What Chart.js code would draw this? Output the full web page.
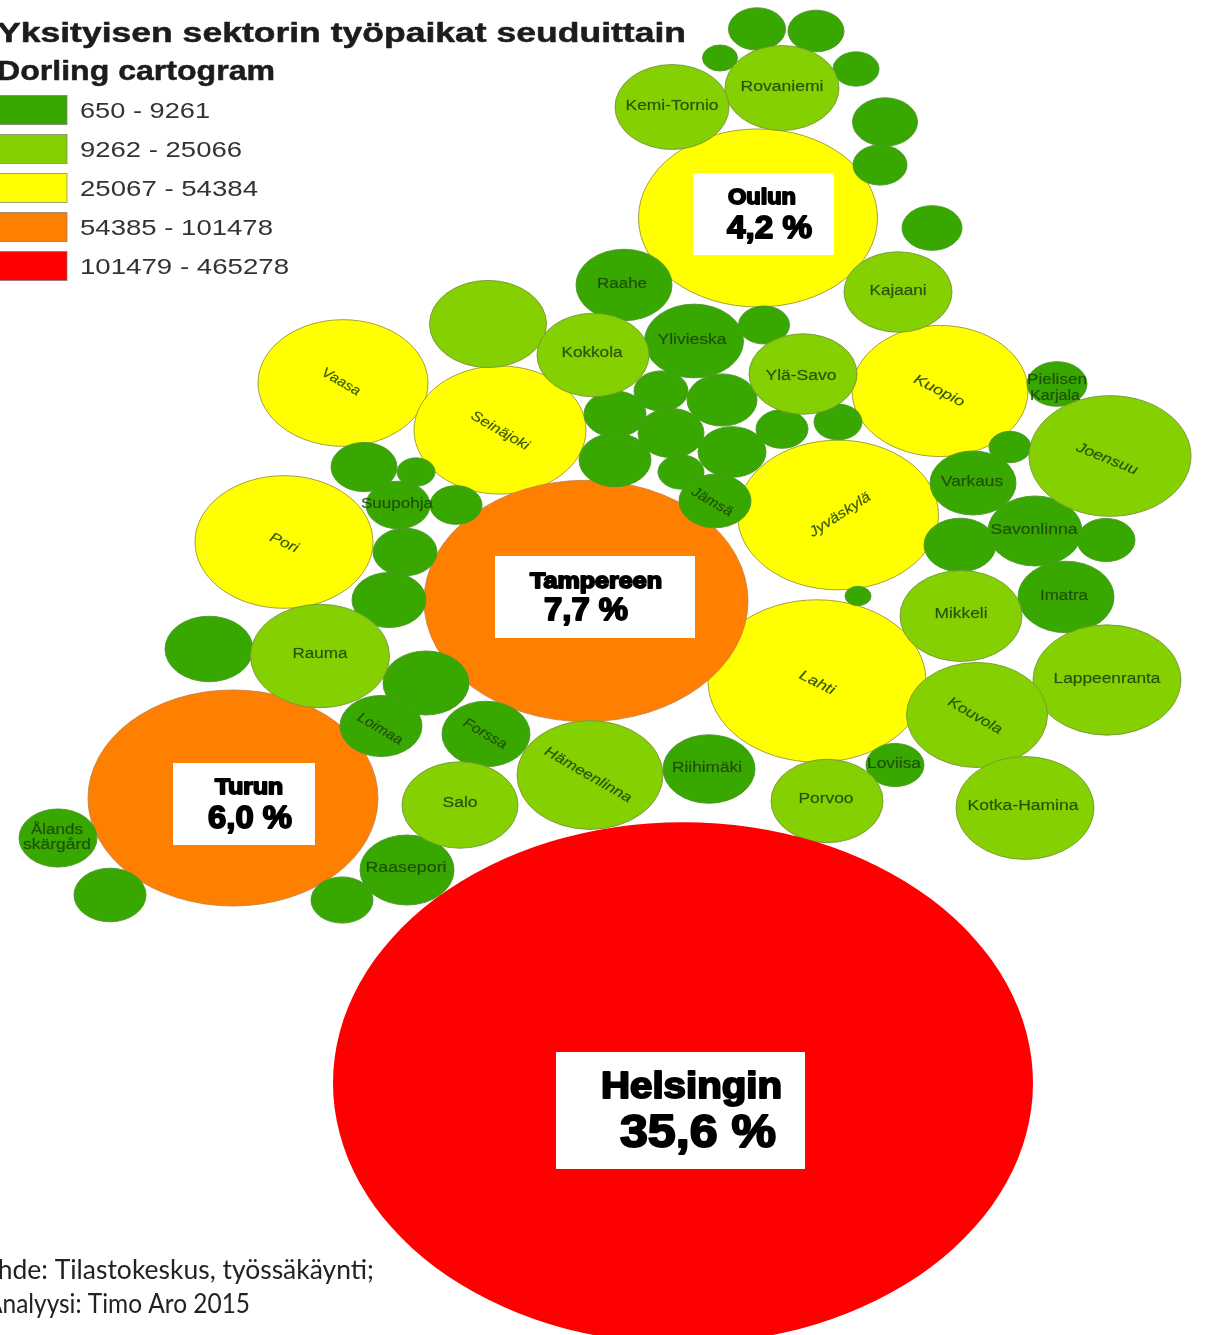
<!DOCTYPE html>
<html lang="fi">
<head>
<meta charset="utf-8">
<title>Yksityisen sektorin työpaikat seuduittain</title>
<script src="https://cdn.jsdelivr.net/npm/chart.js@4/dist/chart.umd.js"></script>
<style>html,body{margin:0;padding:0;background:#fff;overflow:hidden}canvas{display:block}</style>
</head>
<body>
<canvas id="c" width="1209" height="1335"></canvas>
<script>
// ---------- data ----------
const legendRanges = ['650 - 9261','9262 - 25066','25067 - 54384','54385 - 101478','101479 - 465278'];
const classColors  = ['#38a800','#85d000','#ffff00','#ff8000','#ff0000'];
// class 0: smallest regions
const class0X = [757,816,720,856,885,880,932,624,694,764,1057,661,615,722,671,732,615,681,782,838,715,1010,973,1035,960,1106,1066,858,895,709,398,364,416,456,405,389,209,426,381,486,407,342,58,110];
const class0Y = [29,31,58,69,122,165,228,285,341,325,384,391,414,400,433,452,460,472,429,422,501,447,483,531,545,540,597,596,765,769,505,467,472,505,552,600,649,683,726,734,870,900,838,895];
const class0R = [28.5,28,17.5,23,32.5,27,30,48,49.5,25.5,30,27,31,35,33,34,36,23,26,24,36,21,43,47,36,29,48,13,29,46,32,33,19,26,32,37,44,43,41,44,47,31,39,36];
// class 1
const class1X = [782,672,898,488,593,803,1110,961,1107,977,827,1025,590,320,460];
const class1Y = [88,107,292,324,355,374,456,616,680,715,801,808,775,656,805];
const class1R = [57,57,54,58.5,56,54,81,61,74,70.5,56,69,73,69.5,58];
// class 2
const class2X = [758,940,343,500,838,817,284];
const class2Y = [218,391,383,430,515,681,542];
const class2R = [119.5,88,85,86,100.5,109,89];
// class 3
const class3X = [586,233];
const class3Y = [601,798];
const class3R = [162,145];
// class 4
const class4X = [683];
const class4Y = [1083];
const class4R = [350];

const regionNames = ['Kemi-Tornio','Rovaniemi','Raahe','Kajaani','Kokkola','Ylivieska','Ylä-Savo','Kuopio','Pielisen','Karjala','Joensuu','Vaasa','Seinäjoki','Jämsä','Suupohja','Varkaus','Savonlinna','Jyväskylä','Imatra','Mikkeli','Lappeenranta','Kouvola','Lahti','Loviisa','Porvoo','Kotka-Hamina','Riihimäki','Hämeenlinna','Forssa','Loimaa','Salo','Rauma','Pori','Raasepori','Ålands','skärgård'];
const regionX = [672,782,622,898,592,692,801,939,1057,1055,1107,341,500,712,397,972,1034,840,1064,961,1107,975,817,894,826,1023,707,588,485,380,460,320,284,406,57,57];
const regionY = [106,87,284,291,353,340,376,391,380,396,459,382,431,502,504,482,530,515,596,614,679,716,683,764,799,806,768,775,734,729,803,654,543,868,830,845];
const regionA = [0,0,0,0,0,0,0,27,0,0,22,30,30,30,0,0,0,-33,0,0,0,30,27,0,0,0,0,30,30,30,0,0,25,0,0,0];
const regionW = [93,83,50,57,61,69,71,55,60,50,65,42,65,45,72,62,87,70,48,53,107,60,38,54,55,111,70,98,48,50,35,55,30,81,52,68];

const shareTitles = ['Oulun','Tampereen','Turun','Helsingin'];
const shareValues = ['4,2 %','7,7 %','6,0 %','35,6 %'];

// ---------- layout ----------
const ASPECT = 0.745;
const classBorders = ['rgba(75,150,45,0.9)','rgba(120,150,60,0.9)','rgba(150,145,40,0.85)','rgba(195,125,70,0.8)','rgba(255,0,0,0)'];
const classOrder = [1,0,3,2,-1]; // higher is drawn first: yellow, orange, dark, light, red
const boxes = [[693,173,141,82],[495,556,200,82],[173,763,142,82],[556,1052,249,117]];
const shareName = [[728,796,204,'bold 22px'],[530,662,588,'bold 22px'],[215,283,794,'bold 22px'],[601,782,1098,'bold 36px']];
const shareVal  = [[727,812,238,'bold 31px'],[544,628,620,'bold 31px'],[208,292,828,'bold 31px'],[620,776,1147,'bold 46px']];

// the whole canvas is the plot: big bubbles may run off the edge as in the reference
Chart.BubbleController.prototype.getMaxOverflow = function () { return 0; };

// bubbles are elliptical in the reference because the map was stretched sideways
Chart.PointElement.prototype.draw = function (ctx) {
  const o = this.options;
  ctx.save();
  ctx.fillStyle = o.backgroundColor;
  ctx.strokeStyle = o.borderColor;
  ctx.lineWidth = o.borderWidth;
  ctx.beginPath();
  ctx.ellipse(this.x, this.y, o.radius, o.radius * ASPECT, 0, 0, Math.PI * 2);
  ctx.fill();
  ctx.stroke();
  ctx.restore();
};

function fit(ctx, text, left, right, base, font, color, heavy) {
  ctx.save();
  ctx.font = font;
  ctx.textAlign = 'left';
  ctx.textBaseline = 'alphabetic';
  const w = ctx.measureText(text).width;
  ctx.translate(left, base);
  ctx.scale((right - left) / w, 1);
  ctx.fillStyle = color;
  if (heavy) { ctx.strokeStyle = color; ctx.lineWidth = heavy; ctx.lineJoin = 'round'; ctx.strokeText(text, 0, 0); }
  ctx.fillText(text, 0, 0);
  ctx.restore();
}

const overlay = {
  id: 'overlay',
  afterDatasetsDraw(chart) {
    const ctx = chart.ctx, sx = chart.scales.x, sy = chart.scales.y;
    // region labels
    regionNames.forEach((n, i) => {
      ctx.save();
      const rotated = regionA[i] !== 0;
      ctx.font = (rotated ? 'italic ' : '') + '14px "Liberation Sans"';
      ctx.textAlign = 'center';
      ctx.textBaseline = 'middle';
      ctx.translate(sx.getPixelForValue(regionX[i]), sy.getPixelForValue(regionY[i]));
      ctx.rotate(regionA[i] * Math.PI / 180);
      ctx.scale(regionW[i] / ctx.measureText(n).width, 1);
      ctx.fillStyle = 'rgba(30,70,10,0.9)';
      ctx.strokeStyle = 'rgba(30,70,10,0.35)';
      ctx.lineWidth = 0.4;
      ctx.strokeText(n, 0, 0);
      ctx.fillText(n, 0, 0);
      ctx.restore();
    });
    // white share boxes
    boxes.forEach((b, i) => {
      ctx.fillStyle = '#fff';
      ctx.fillRect(b[0], b[1], b[2], b[3]);
      const a = shareName[i], v = shareVal[i];
      fit(ctx, shareTitles[i], a[0], a[1], a[2], a[3] + ' "Liberation Sans"', '#000', i === 3 ? 2 : 1.8);
      fit(ctx, shareValues[i], v[0], v[1], v[2], v[3] + ' "Liberation Sans"', '#000', i === 3 ? 2 : 1.8);
    });
    // title
    const tc = '#1c1c1c';
    fit(ctx, 'Yksityisen sektorin työpaikat seuduittain', -3, 686, 42, 'bold 27px "Liberation Sans"', tc, 0.5);
    fit(ctx, 'Dorling cartogram', -3, 275, 80, 'bold 27px "Liberation Sans"', tc, 0.5);
    // legend
    const rights = [210,242,258,273,289];
    legendRanges.forEach((t, i) => {
      const top = 95.5 + i * 39;
      ctx.fillStyle = classColors[i];
      ctx.fillRect(-1, top, 68, 29);
      ctx.strokeStyle = 'rgba(120,120,120,0.7)';
      ctx.lineWidth = 1;
      ctx.strokeRect(-1, top, 68, 29);
      fit(ctx, t, 80, rights[i], top + 22, '22px "Liberation Sans"', '#333');
    });
    // source
    fit(ctx, 'Lähde: Tilastokeskus, työssäkäynti;', -29, 374, 1279, '26px "Lato"', '#222');
    fit(ctx, 'Analyysi: Timo Aro 2015', -14, 250, 1313, '26px "Lato"', '#222');
  }
};

function series(i, xs, ys, rs) {
  return {
    label: legendRanges[i],
    data: xs.map((x, k) => ({ x, y: ys[k], r: rs[k] })),
    backgroundColor: classColors[i],
    borderColor: classBorders[i],
    borderWidth: 1,
    order: classOrder[i]
  };
}

new Chart(document.getElementById('c'), {
  type: 'bubble',
  data: { datasets: [
    series(0, class0X, class0Y, class0R),
    series(1, class1X, class1Y, class1R),
    series(2, class2X, class2Y, class2R),
    series(3, class3X, class3Y, class3R),
    series(4, class4X, class4Y, class4R)
  ]},
  options: {
    responsive: false,
    animation: false,
    layout: { padding: 0 },
    events: [],
    plugins: { legend: { display: false }, tooltip: { enabled: false } },
    scales: {
      x: { type: 'linear', min: 0, max: 1209, display: false },
      y: { type: 'linear', min: 0, max: 1335, reverse: true, display: false }
    }
  },
  plugins: [overlay]
});
</script>
</body>
</html>
